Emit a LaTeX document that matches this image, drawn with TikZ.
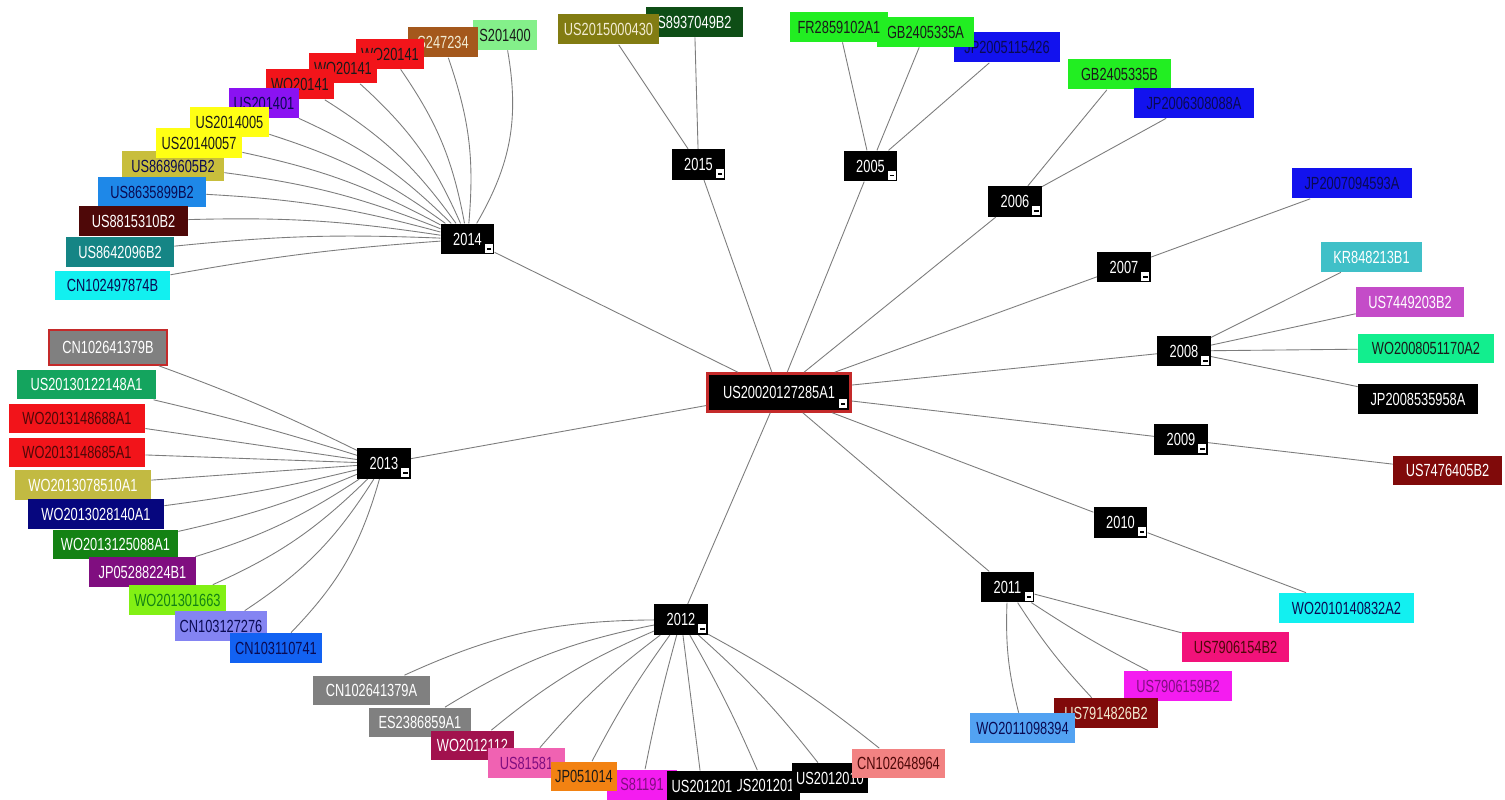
\documentclass[tikz,border=0pt]{standalone}
\usepackage{fontspec}
\setmainfont{Liberation Sans}[FakeStretch=0.73]
\usetikzlibrary{calc}

\definecolor{linkgray}{HTML}{7C7C7C}
\definecolor{rootred}{HTML}{C42A2A}
\definecolor{txtdark}{HTML}{1A1A1A}
\definecolor{txtnavy}{HTML}{0A0A52}
\definecolor{txtpale}{HTML}{F2EBD2}
\definecolor{cpale}{HTML}{84F08A}
\definecolor{csienna}{HTML}{A4581C}
\definecolor{cred}{HTML}{F2141A}
\definecolor{cviolet}{HTML}{8A12F2}
\definecolor{cyellow}{HTML}{FFFF14}
\definecolor{colive}{HTML}{C8BE3C}
\definecolor{cazure}{HTML}{1E88E8}
\definecolor{cmaroon}{HTML}{4E0808}
\definecolor{cteal}{HTML}{158585}
\definecolor{ccyan}{HTML}{12F0F0}
\definecolor{cdolive}{HTML}{827C12}
\definecolor{cdgreen}{HTML}{0E4E16}
\definecolor{cgreen}{HTML}{22EE22}
\definecolor{cblue}{HTML}{1212EE}
\definecolor{ckr}{HTML}{40C0C8}
\definecolor{corchid}{HTML}{C44CC8}
\definecolor{cspring}{HTML}{12EE8E}
\definecolor{cdred}{HTML}{800A0A}
\definecolor{crose}{HTML}{F2127A}
\definecolor{cmagenta}{HTML}{F41CF0}
\definecolor{csky}{HTML}{52A2F2}
\definecolor{cgray}{HTML}{808080}
\definecolor{cwine}{HTML}{A2124E}
\definecolor{cpink}{HTML}{F062B2}
\definecolor{corange}{HTML}{F28212}
\definecolor{ccoral}{HTML}{F28282}
\definecolor{cjade}{HTML}{14A45E}
\definecolor{colv}{HTML}{C2BA42}
\definecolor{cnavy}{HTML}{06067E}
\definecolor{cforest}{HTML}{148214}
\definecolor{cpurple}{HTML}{800E80}
\definecolor{clime}{HTML}{82F014}
\definecolor{clav}{HTML}{8484F2}
\definecolor{croyal}{HTML}{1262F2}

\begin{document}
\begin{tikzpicture}[x=0.02cm, y=-0.02cm,
    every node/.style={font=\fontsize{10}{12}\selectfont, inner sep=0pt},
    leaf/.style={rectangle, minimum height=0.6cm},
    wd/.style={minimum width=#1*0.02cm},
    minus/.style={path picture={
        \fill[white] ($(path picture bounding box.south east)+(-#1,#1)$) rectangle +(-4.6pt,5.2pt);
        \draw[black, line width=1pt] ($(path picture bounding box.south east)+(-#1,#1)+(-1pt,2.4pt)$) -- +(-2.6pt,0pt);}},
    minus/.default=0.8pt,
    year/.style={rectangle, fill=black, text=white, minimum width=1.07cm, minimum height=0.61cm, minus},
    link/.style={draw=linkgray, line width=0.5pt}]

    \fill[white] (0,0) rectangle (1505,800);
    \useasboundingbox (0,0) rectangle (1505,800);

    \node[rectangle, fill=black, text=white, draw=rootred, line width=1.5pt,
          minimum width=143*0.02cm, minimum height=38*0.02cm, minus=2pt] (root) at (779,392.5) {US20020127285A1};

    \node[year] (y2015) at (698.5,164.5) {2015};
    \node[year] (y2005) at (870.5,166) {2005};
    \node[year] (y2006) at (1015,201.5) {2006};
    \node[year] (y2007) at (1124,267) {2007};
    \node[year] (y2008) at (1184,351) {2008};
    \node[year] (y2009) at (1181,439.5) {2009};
    \node[year] (y2010) at (1120.5,522.5) {2010};
    \node[year] (y2011) at (1007.5,587) {2011};
    \node[year] (y2012) at (681,619.5) {2012};
    \node[year] (y2013) at (384,463.5) {2013};
    \node[year] (y2014) at (467.5,239) {2014};

    % 2014
    \node[leaf, wd=64, fill=cpale, text=txtdark] (s201400) at (505,35) {S201400};
    \node[leaf, wd=70, fill=csienna, text=txtpale] (s247234) at (443,42.5) {S247234};
    \node[leaf, wd=68, fill=cred, text=txtdark] (wo20141a) at (390,54) {WO20141};
    \node[leaf, wd=68, fill=cred, text=txtdark] (wo20141b) at (343,68.5) {WO20141};
    \node[leaf, wd=68, fill=cred, text=txtdark] (wo20141c) at (300,84.5) {WO20141};
    \node[leaf, wd=70, fill=cviolet, text=txtnavy] (us201401) at (264,103) {US201401};
    \node[leaf, wd=79, fill=cyellow, text=txtdark] (us2014005) at (229.5,122) {US2014005};
    \node[leaf, wd=102, fill=colive, text=txtnavy] (us8689605) at (173,166.5) {US8689605B2};
    \node[leaf, wd=86, fill=cyellow, text=txtdark] (us20140057) at (199,143.5) {US20140057};
    \node[leaf, wd=108, fill=cazure, text=txtnavy] (us8635899) at (152,192) {US8635899B2};
    \node[leaf, wd=109, fill=cmaroon, text=white] (us8815310) at (133.5,221.5) {US8815310B2};
    \node[leaf, wd=108, fill=cteal, text=white] (us8642096) at (120,252) {US8642096B2};
    \node[leaf, wd=115, fill=ccyan, text=txtnavy] (cn102497874) at (112.5,285.5) {CN102497874B};

    % 2015
    \node[leaf, wd=97, fill=cdgreen, text=white] (us8937049) at (694.5,22) {S8937049B2};
    \node[leaf, wd=101, fill=cdolive, text=txtpale] (us2015000430) at (608.5,29.5) {US2015000430};

    % 2005
    \node[leaf, wd=106, fill=cblue, text=txtnavy] (jp2005115426) at (1007,47.5) {JP2005115426};
    \node[leaf, wd=97, fill=cgreen, text=txtdark] (gb2405335a) at (925.5,32) {GB2405335A};
    \node[leaf, wd=98, fill=cgreen, text=txtdark] (fr2859102) at (839,27) {FR2859102A1};

    % 2006 - 2010
    \node[leaf, wd=103, fill=cgreen, text=txtdark] (gb2405335b) at (1119.5,74.5) {GB2405335B};
    \node[leaf, wd=120, fill=cblue, text=txtnavy] (jp2006308088) at (1194,103) {JP2006308088A};
    \node[leaf, wd=120, fill=cblue, text=txtnavy] (jp2007094593) at (1352,183.5) {JP2007094593A};
    \node[leaf, wd=101, fill=ckr, text=white] (kr848213) at (1371.5,257) {KR848213B1};
    \node[leaf, wd=108, fill=corchid, text=white] (us7449203) at (1410,302) {US7449203B2};
    \node[leaf, wd=136, fill=cspring, text=txtdark] (wo2008051170) at (1426,348.5) {WO2008051170A2};
    \node[leaf, wd=120, fill=black, text=white] (jp2008535958) at (1418,399) {JP2008535958A};
    \node[leaf, wd=109, fill=cdred, text=white] (us7476405) at (1447.5,470.5) {US7476405B2};
    \node[leaf, wd=135, fill=ccyan, text=txtnavy] (wo2010140832) at (1346.5,608) {WO2010140832A2};

    % 2011
    \node[leaf, wd=107, fill=crose, text=cmaroon] (us7906154) at (1235.5,647) {US7906154B2};
    \node[leaf, wd=108, fill=cmagenta, text=cpurple] (us7906159) at (1178,686) {US7906159B2};
    \node[leaf, wd=104, fill=cdred, text=txtpale] (us7914826) at (1106,713) {US7914826B2};
    \node[leaf, wd=105, fill=csky, text=txtnavy] (wo2011098394) at (1022.5,728) {WO2011098394};

    % 2012
    \node[leaf, wd=117, fill=cgray, text=white] (cn102641379a) at (371.5,690.5) {CN102641379A};
    \node[leaf, wd=102, fill=cgray, text=white] (es2386859) at (420,722.5) {ES2386859A1};
    \node[leaf, wd=83, fill=cwine, text=white] (wo2012112) at (472.5,745.5) {WO2012112};
    \node[leaf, wd=77, fill=cpink, text=cpurple] (us81581) at (526.5,763) {US81581};
    \node[leaf, wd=70, fill=cmagenta, text=cpurple] (s81191) at (642,784.5) {S81191};
    \node[leaf, wd=66, fill=corange, text=txtdark] (jp051014) at (584,776.5) {JP051014};
    \node[leaf, wd=72, fill=black, text=white] (us201201b) at (764,785.5) {US201201};
    \node[leaf, wd=70, fill=black, text=white] (us201201a) at (702,786) {US201201};
    \node[leaf, wd=76, fill=black, text=white] (us2012010) at (830,778) {US2012010};
    \node[leaf, wd=93, fill=ccoral, text=cmaroon] (cn102648964) at (898.5,763.5) {CN102648964};

    % 2013
    \node[leaf, wd=118, minimum height=35*0.02cm, fill=cgray, text=white, draw=rootred, line width=0.9pt] (cn102641379b) at (108,347.5) {CN102641379B};
    \node[leaf, wd=139, fill=cjade, text=white] (us20130122148) at (86.5,384.5) {US20130122148A1};
    \node[leaf, wd=136, fill=cred, text=cmaroon] (wo2013148688) at (77,418.5) {WO2013148688A1};
    \node[leaf, wd=136, fill=cred, text=cmaroon] (wo2013148685) at (77,452.5) {WO2013148685A1};
    \node[leaf, wd=136, fill=colv, text=white] (wo2013078510) at (83,485) {WO2013078510A1};
    \node[leaf, wd=136, fill=cnavy, text=white] (wo2013028140) at (96,514) {WO2013028140A1};
    \node[leaf, wd=125, fill=cforest, text=white] (wo2013125088) at (115.5,544.5) {WO2013125088A1};
    \node[leaf, wd=107, fill=cpurple, text=white] (jp05288224) at (142.5,572) {JP05288224B1};
    \node[leaf, wd=97, fill=clime, text=cforest] (wo201301663) at (177.5,600) {WO201301663};
    \node[leaf, wd=92, fill=clav, text=txtnavy] (cn103127276) at (221,626) {CN103127276};
    \node[leaf, wd=92, fill=croyal, text=txtnavy] (cn103110741) at (276,648) {CN103110741};

    \draw[link] (root) -- (y2015);
    \draw[link] (root) -- (y2005);
    \draw[link] (root) -- (y2006);
    \draw[link] (root) -- (y2007);
    \draw[link] (root) -- (y2008);
    \draw[link] (root) -- (y2009);
    \draw[link] (root) -- (y2010);
    \draw[link] (root) -- (y2011);
    \draw[link] (root) -- (y2012);
    \draw[link] (root) -- (y2013);
    \draw[link] (root) -- (y2014);

    \draw[link] (y2014) to[bend right=20] (s201400);
    \draw[link] (y2014) to[bend right=12] (s247234);
    \draw[link] (y2014) to[bend right=12] (wo20141a);
    \draw[link] (y2014) to[bend right=12] (wo20141b);
    \draw[link] (y2014) to[bend right=11] (wo20141c);
    \draw[link] (y2014) to[bend right=10] (us201401);
    \draw[link] (y2014) to[bend right=9] (us2014005);
    \draw[link] (y2014) to[bend right=8] (us20140057);
    \draw[link] (y2014) to[bend right=7] (us8689605);
    \draw[link] (y2014) to[bend right=6] (us8635899);
    \draw[link] (y2014) to[bend right=5] (us8815310);
    \draw[link] (y2014) to[bend right=4] (us8642096);
    \draw[link] (y2014) to[bend right=3] (cn102497874);

    \draw[link] (y2015) -- (us2015000430);
    \draw[link] (y2015) -- (us8937049);
    \draw[link] (y2005) -- (fr2859102);
    \draw[link] (y2005) -- (gb2405335a);
    \draw[link] (y2005) -- (jp2005115426);
    \draw[link] (y2006) -- (gb2405335b);
    \draw[link] (y2006) -- (jp2006308088);
    \draw[link] (y2007) -- (jp2007094593);
    \draw[link] (y2008) -- (kr848213);
    \draw[link] (y2008) -- (us7449203);
    \draw[link] (y2008) -- (wo2008051170);
    \draw[link] (y2008) -- (jp2008535958);
    \draw[link] (y2009) -- (us7476405);
    \draw[link] (y2010) -- (wo2010140832);

    \draw[link] (y2011) -- (us7906154);
    \draw[link] (y2011) to[bend right=3] (us7906159);
    \draw[link] (y2011) to[bend right=5] (us7914826);
    \draw[link] (y2011) to[bend right=8] (wo2011098394);

    \draw[link] (y2012) to[bend right=12] (cn102641379a);
    \draw[link] (y2012) to[bend right=10] (es2386859);
    \draw[link] (y2012) to[bend right=8] (wo2012112);
    \draw[link] (y2012) to[bend right=6] (us81581);
    \draw[link] (y2012) to[bend right=4] (jp051014);
    \draw[link] (y2012) to[bend right=2] (s81191);
    \draw[link] (y2012) -- (us201201a);
    \draw[link] (y2012) to[bend left=3] (us201201b);
    \draw[link] (y2012) to[bend left=5] (us2012010);
    \draw[link] (y2012) to[bend left=5] (cn102648964);

    \draw[link] (y2013) to[bend right=3] (cn102641379b);
    \draw[link] (y2013) to[bend right=2] (us20130122148);
    \draw[link] (y2013) -- (wo2013148688);
    \draw[link] (y2013) -- (wo2013148685);
    \draw[link] (y2013) -- (wo2013078510);
    \draw[link] (y2013) to[bend left=3] (wo2013028140);
    \draw[link] (y2013) to[bend left=5] (wo2013125088);
    \draw[link] (y2013) to[bend left=8] (jp05288224);
    \draw[link] (y2013) to[bend left=10] (wo201301663);
    \draw[link] (y2013) to[bend left=12] (cn103127276);
    \draw[link] (y2013) to[bend left=14] (cn103110741);

\end{tikzpicture}
\end{document}
